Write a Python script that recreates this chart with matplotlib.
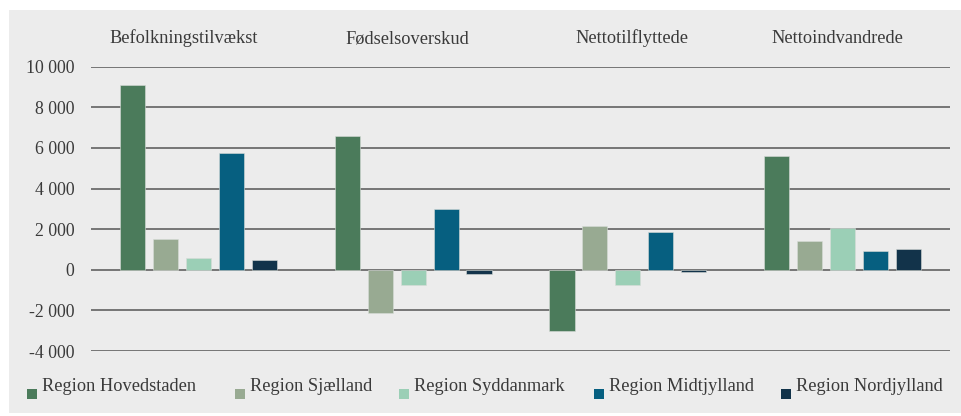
import matplotlib

matplotlib.use("Agg")

import matplotlib.pyplot as plt
import matplotlib.transforms as mtransforms
from matplotlib.patches import Rectangle
import numpy as np

plt.rcParams["font.family"] = ["Liberation Serif", "DejaVu Serif"]

# Data
categories = ["Befolkningstilvækst", "Fødselsoverskud", "Nettotilflyttede", "Nettoindvandrede"]
regions = ["Region Hovedstaden", "Region Sjælland", "Region Syddanmark",
           "Region Midtjylland", "Region Nordjylland"]
hovedstaden = [9100, 6600, -3000, 5600]
sjaelland = [1500, -2150, 2150, 1400]
syddanmark = [600, -750, -750, 2050]
midtjylland = [5750, 3000, 1850, 900]
nordjylland = [500, -200, -130, 1000]
series = [hovedstaden, sjaelland, syddanmark, midtjylland, nordjylland]
colors = ["#4b7b5b", "#98aa92", "#9bcfb6", "#065f80", "#12334a"]
yticks = [-4000, -2000, 0, 2000, 4000, 6000, 8000, 10000]

W, H = 962, 416
BG = "#ececec"
TEXT = "#3a3a3a"

fig = plt.figure(figsize=(W / 100, H / 100), dpi=100, facecolor="white")
fig.add_artist(Rectangle((9 / W, 1 - 413 / H), 1 - 9 / W, (413 - 10) / H,
                         transform=fig.transFigure, facecolor=BG, edgecolor="none", zorder=0))

ax = fig.add_axes([91 / W, 1 - 351 / H, (950 - 91) / W, (351 - 66.7) / H])
ax.set_facecolor("none")

x = np.arange(len(categories))
step = 0.1535
width = 0.117
for j, (vals, col) in enumerate(zip(series, colors)):
    ax.bar(x + (j - 2) * step, vals, width=width, color=col,
           edgecolor="#d8dcd8", linewidth=0.4, zorder=3)

ax.set_xlim(-0.5, len(categories) - 0.5)
ax.set_ylim(-4000, 10000)
ax.set_yticks(yticks)
ax.set_yticklabels([f"{v:,}".replace(",", " ") for v in yticks], fontsize=12.8, color=TEXT)
ax.set_xticks([])
ax.tick_params(axis="y", length=0, pad=12)
ax.grid(axis="y", color="#555555", linewidth=1.1)
ax.set_axisbelow(True)
for s in ax.spines.values():
    s.set_visible(False)

# group headings sit slightly off the group centres in the original
trans = mtransforms.blended_transform_factory(ax.transData, ax.transAxes)
label_y = (351 - 43) / (351 - 66.7)
label_shift = [-0.068, -0.025, 0.018, -0.024]
for xi, cat, dx in zip(x, categories, label_shift):
    ax.text(xi + dx, label_y, cat, transform=trans, ha="center", va="baseline",
            fontsize=13.2, color=TEXT)

# legend drawn by hand to mimic the low square markers
legend_x = [27, 235, 399, 594, 781]
for lx, name, col in zip(legend_x, regions, colors):
    fig.add_artist(Rectangle((lx / W, 1 - 399 / H), 10 / W, 10 / H,
                             transform=fig.transFigure, facecolor=col, edgecolor="none"))
    fig.text((lx + 15) / W, 1 - 391 / H, name, ha="left", va="baseline",
             fontsize=13.2, color=TEXT)

fig.savefig("out.png", dpi=100, facecolor=fig.get_facecolor())
